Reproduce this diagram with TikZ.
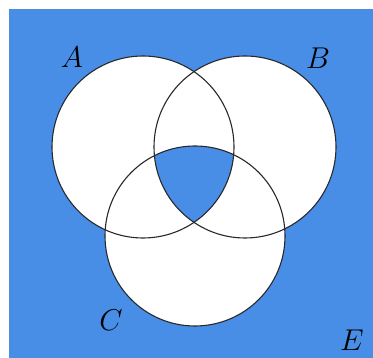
\documentclass[tikz,border=0pt]{standalone}
\definecolor{bgblue}{RGB}{72,142,230}
\definecolor{edge}{RGB}{40,40,45}
\tikzset{
  setcircle/.style={draw=edge, line width=1.1pt},
  setlabel/.style={inner sep=0pt, font=\huge, scale=1.45}
}
\begin{document}
\begin{tikzpicture}[x=1pt,y=-1pt]
\useasboundingbox (0,0) rectangle (373,358);
\fill[bgblue] (9,9) rectangle (373,358);
\coordinate (ca) at (143,147);
\coordinate (cb) at (245,147);
\coordinate (cc) at (195,236);
\fill[white] (ca) circle[radius=91];
\fill[white] (cb) circle[radius=91];
\fill[white] (cc) circle[radius=90];
\begin{scope}
  \clip (ca) circle[radius=91];
  \clip (cb) circle[radius=91];
  \fill[bgblue] (cc) circle[radius=90];
\end{scope}
\draw[setcircle] (ca) circle[radius=91];
\draw[setcircle] (cb) circle[radius=91];
\draw[setcircle] (cc) circle[radius=90];
\node[setlabel] (la) at (72,57) {$A$};
\node[setlabel] (lb) at (318,58) {$B$};
\node[setlabel] (lc) at (111,320) {$C$};
\node[setlabel] (le) at (352,340) {$E$};
\end{tikzpicture}
\end{document}
